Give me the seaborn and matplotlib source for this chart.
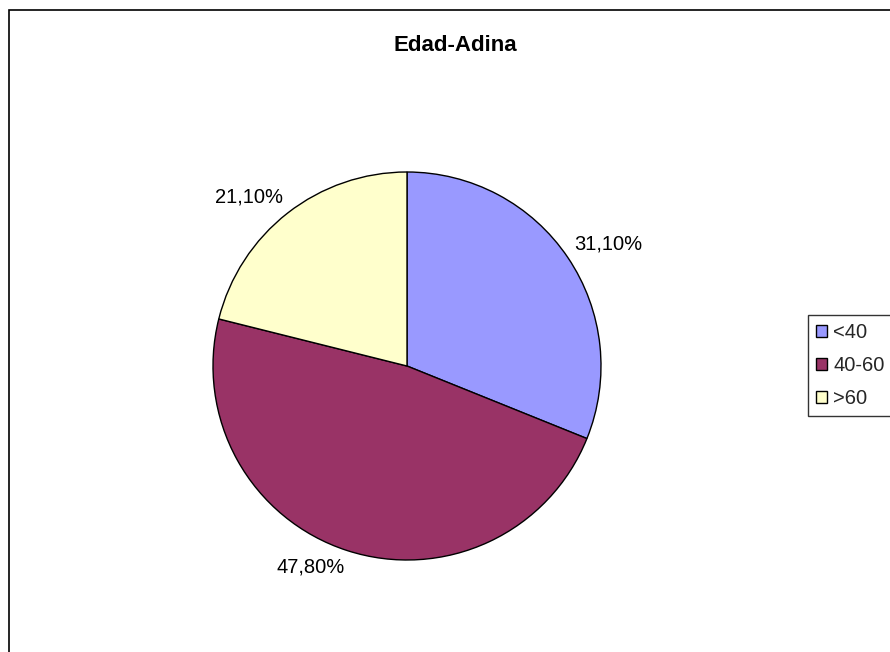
import matplotlib
matplotlib.use("Agg")
import matplotlib.pyplot as plt
import seaborn as sns
import numpy as np
from matplotlib.patches import Rectangle

categories = ["<40", "40-60", ">60"]
values = [31.10, 47.80, 21.10]
label_texts = ["31,10%", "47,80%", "21,10%"]
colors = ["#9999FF", "#993366", "#FFFFCC"]
title = "Edad-Adina"

sns.set_theme(style="white")
plt.rcParams['font.family'] = ['Liberation Sans', 'DejaVu Sans']

W, H = 890, 652
fig = plt.figure(figsize=(W / 100, H / 100), dpi=100)
fig.patch.set_facecolor("white")

# outer frame (clipped at right/bottom like the reference)
fig.add_artist(Rectangle((8.5 / W, -0.05), 1.0, 1 - 9.5 / H + 0.05, transform=fig.transFigure,
                         fill=False, edgecolor="black", linewidth=1.2))

cx, cy, r = 407, 366, 194
ax = fig.add_axes([(cx - r) / W, (H - cy - r) / H, 2 * r / W, 2 * r / H])
wedges, _ = ax.pie(values, colors=colors, startangle=90, counterclock=False,
                   wedgeprops=dict(edgecolor="black", linewidth=1.0), radius=1)
ax.set_xlim(-1, 1)
ax.set_ylim(-1, 1)
ax.set_aspect("equal")
ax.axis("off")

# labels: nearest corner of the text box sits just outside the slice edge
for w, t in zip(wedges, label_texts):
    ang = np.deg2rad((w.theta1 + w.theta2) / 2)
    c, s = np.cos(ang), np.sin(ang)
    ax.text(1.04 * c, 1.04 * s, t,
            ha="left" if c > 0 else "right",
            va="bottom" if s > 0 else "top",
            fontsize=14.5, color="black", clip_on=False)

fig.text(455 / W, 1 - 51 / H, title, ha="center", va="baseline",
         fontsize=16, fontweight="bold", color="black")

leg = fig.legend(wedges, categories, loc="upper left",
                 bbox_to_anchor=(808 / W, 1 - 315 / H), frameon=True,
                 fontsize=14.5, handlelength=0.55, handleheight=0.55,
                 labelspacing=0.7, handletextpad=0.3, borderpad=0.4,
                 fancybox=False, borderaxespad=0)
leg.get_frame().set_edgecolor("black")
leg.get_frame().set_linewidth(1.0)

fig.savefig("out.png", dpi=100)
